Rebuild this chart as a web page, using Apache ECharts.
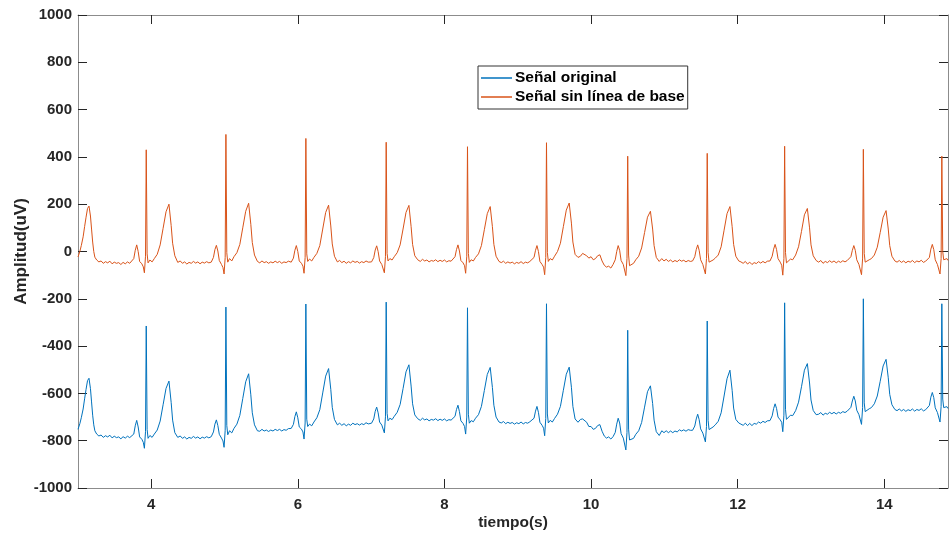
<!DOCTYPE html>
<html>
<head>
<meta charset="utf-8">
<script src="https://cdn.jsdelivr.net/npm/echarts@6/dist/echarts.min.js"></script>
<style>
html,body{margin:0;padding:0;background:#fff;}
#chart{width:949px;height:536px;}
</style>
</head>
<body>
<div id="chart"></div>
<script>
// ---- Data ----
const seriesNames = ['Señal original', 'Señal sin línea de base'];
const xTicks = [4, 6, 8, 10, 12, 14];
const yTicks = [-1000, -800, -600, -400, -200, 0, 200, 400, 600, 800, 1000];

// time (s)
const tiempo = [
  3.000,3.025,3.045,3.070,3.090,3.110,3.130,3.150,3.170,3.185,3.200,3.215,3.230,3.255,3.285,3.315,3.345,3.375,3.405,3.435,3.465,3.495,3.525,3.555,3.585,3.615,3.645,3.675,3.705,
  3.731,3.761,3.781,3.801,3.821,3.841,3.871,3.891,3.906,3.921,3.931,3.943,3.956,3.981,4.011,4.041,4.081,4.121,4.161,4.201,4.241,4.271,4.291,4.321,4.361,4.395,4.425,4.455,4.485,4.515,4.545,4.575,4.605,4.635,4.665,4.695,4.725,4.755,4.785,
  4.818,4.848,4.868,4.888,4.908,4.928,4.958,4.978,4.993,5.008,5.018,5.030,5.043,5.068,5.098,5.128,5.168,5.208,5.248,5.288,5.328,5.358,5.378,5.408,5.448,5.480,5.510,5.540,5.570,5.600,5.630,5.660,5.690,5.720,5.750,5.780,5.810,5.840,5.870,
  5.909,5.939,5.959,5.979,5.999,6.019,6.049,6.069,6.084,6.099,6.109,6.121,6.134,6.159,6.189,6.219,6.259,6.299,6.339,6.379,6.419,6.449,6.469,6.499,6.539,6.570,6.600,6.630,6.660,6.690,6.720,6.750,6.780,6.810,6.840,6.870,6.900,6.930,6.960,
  7.005,7.035,7.055,7.075,7.095,7.115,7.145,7.165,7.180,7.195,7.205,7.217,7.230,7.255,7.285,7.315,7.355,7.395,7.435,7.475,7.515,7.545,7.565,7.595,7.635,7.670,7.700,7.730,7.760,7.790,7.820,7.850,7.880,7.910,7.940,7.970,8.000,8.030,8.060,8.090,
  8.114,8.144,8.164,8.184,8.204,8.224,8.254,8.274,8.289,8.304,8.314,8.326,8.339,8.364,8.394,8.424,8.464,8.504,8.544,8.584,8.624,8.654,8.674,8.704,8.744,8.775,8.805,8.835,8.865,8.895,8.925,8.955,8.985,9.015,9.045,9.075,9.105,9.135,9.165,
  9.192,9.222,9.242,9.262,9.282,9.302,9.332,9.352,9.367,9.382,9.392,9.404,9.417,9.442,9.472,9.502,9.542,9.582,9.622,9.662,9.702,9.732,9.752,9.782,9.822,
  9.855,9.885,9.910,9.940,9.970,10.000,10.030,10.060,10.090,10.120,10.150,10.180,10.210,10.240,10.270,10.300,
  10.330,10.350,10.370,10.390,10.410,10.440,10.460,10.475,10.490,10.500,10.512,10.525,10.550,10.580,10.610,10.650,10.690,10.730,10.770,10.810,10.840,10.860,10.890,10.930,10.965,10.995,11.025,11.055,11.085,11.115,11.145,11.175,11.205,11.235,11.265,11.295,11.325,11.355,
  11.385,11.415,11.435,11.455,11.475,11.495,11.525,11.545,11.560,11.575,11.585,11.597,11.610,11.635,11.665,11.695,11.735,11.775,11.815,11.855,11.895,11.925,11.945,11.975,12.015,12.045,12.075,12.105,12.135,12.165,12.195,12.225,12.255,12.285,12.315,12.345,12.375,12.405,
  12.441,12.471,12.491,12.511,12.531,12.551,12.581,12.601,12.616,12.631,12.641,12.653,12.666,12.691,12.721,12.751,12.791,12.831,12.871,12.911,12.951,12.981,13.001,13.031,13.071,13.105,13.135,13.165,13.195,13.225,13.255,13.285,13.315,13.345,13.375,13.405,13.435,13.465,13.495,
  13.515,13.545,13.565,13.585,13.605,13.625,13.655,13.675,13.690,13.705,13.715,13.727,13.740,13.765,13.795,13.825,13.865,13.905,13.945,13.985,14.025,14.055,14.075,14.105,14.145,14.175,14.205,14.235,14.265,14.295,14.325,14.355,14.385,14.415,14.445,14.475,14.505,14.535,14.565,
  14.586,14.616,14.636,14.656,14.676,14.696,14.726,14.746,14.761,14.776,14.786,14.798,14.811,14.836,14.855,14.870
];

// "Señal original" (uV)
const senalOriginal = [
  -752,-728,-703,-666,-623,-583,-546,-536,-580,-636,-692,-733,-758,-772,-780,-776,-786,-779,-784,-777,-788,-781,-787,-784,-792,-783,-789,-781,-787,
  -783,-772,-737,-714,-742,-784,-794,-807,-832,-762,-315,-752,-790,-778,-786,-772,-755,-717,-648,-579,-548,-638,-713,-766,-786,-780,-790,-784,-793,-786,-790,-782,-789,-784,-792,-785,-789,-783,-788,
  -783,-763,-730,-712,-736,-773,-789,-801,-828,-756,-235,-735,-775,-758,-767,-748,-730,-693,-622,-551,-517,-606,-682,-733,-758,-760,-752,-759,-755,-761,-755,-759,-752,-757,-752,-759,-753,-756,-749,
  -748,-731,-698,-678,-703,-742,-751,-763,-793,-725,-222,-709,-740,-730,-737,-721,-703,-669,-598,-527,-495,-583,-659,-710,-733,-726,-735,-728,-737,-730,-735,-726,-732,-728,-734,-728,-732,-724,-729,
  -726,-708,-676,-658,-682,-721,-734,-740,-767,-699,-214,-684,-716,-705,-711,-697,-680,-647,-580,-509,-479,-569,-644,-691,-707,-714,-705,-712,-708,-716,-710,-713,-707,-715,-709,-714,-708,-716,-711,-713,
  -714,-697,-668,-650,-677,-716,-727,-740,-772,-700,-238,-688,-726,-715,-720,-705,-690,-655,-588,-520,-490,-575,-650,-700,-721,-725,-719,-728,-722,-727,-723,-730,-724,-728,-721,-729,-723,-726,-720,
  -724,-705,-675,-655,-680,-722,-735,-747,-779,-706,-221,-687,-725,-714,-721,-706,-688,-655,-587,-519,-489,-574,-655,-708,-722,
  -710,-708,-706,-722,-740,-740,-752,-748,-736,-732,-760,-780,-789,-784,-793,-783,
  -765,-730,-705,-725,-770,-789,-797,-839,-766,-333,-751,-797,-805,-790,-773,-758,-723,-658,-593,-568,-643,-713,-762,-778,-758,-766,-758,-766,-759,-766,-759,-763,-754,-759,-754,-760,-753,-756,
  -756,-738,-708,-688,-711,-750,-768,-773,-805,-740,-294,-714,-753,-747,-742,-733,-718,-682,-611,-538,-502,-587,-662,-710,-725,-730,-735,-726,-736,-727,-736,-727,-730,-721,-726,-718,-723,-716,
  -715,-695,-664,-644,-664,-700,-712,-722,-762,-692,-217,-667,-710,-703,-692,-694,-673,-637,-572,-502,-474,-556,-628,-672,-690,-688,-681,-692,-684,-688,-680,-686,-680,-687,-680,-684,-677,-681,-675,
  -677,-659,-632,-612,-632,-671,-690,-694,-731,-660,-200,-640,-677,-671,-665,-660,-644,-611,-549,-484,-456,-534,-604,-648,-668,-673,-666,-674,-668,-676,-669,-673,-666,-675,-668,-672,-665,-674,-669,
  -668,-651,-616,-596,-618,-661,-681,-676,-721,-655,-221,-624,-660,-666,-656,-664
];

// "Señal sin línea de base" (uV)
const senalSinBase = [
  -23,0,25,62,105,145,182,192,150,95,40,0,-24,-36,-44,-40,-50,-43,-48,-41,-52,-45,-50,-47,-55,-46,-52,-44,-50,
  -46,-30,5,28,0,-42,-52,-65,-90,-20,430,-10,-48,-36,-44,-30,-12,28,98,168,200,110,35,-18,-46,-40,-50,-44,-53,-46,-50,-42,-49,-44,-52,-45,-49,-43,-48,
  -45,-25,8,26,2,-38,-55,-68,-95,-25,495,-5,-45,-30,-40,-22,-5,30,100,170,204,115,38,-15,-42,-48,-40,-47,-43,-50,-44,-48,-41,-47,-42,-50,-44,-47,-41,
  -45,-28,5,25,0,-40,-50,-62,-92,-25,478,-10,-42,-32,-40,-25,-8,25,95,165,196,108,32,-20,-44,-38,-47,-41,-50,-43,-48,-40,-46,-42,-49,-43,-47,-40,-45,
  -44,-26,6,24,0,-40,-55,-62,-90,-22,462,-8,-40,-30,-36,-22,-5,28,95,165,195,105,30,-18,-35,-42,-33,-40,-36,-44,-38,-41,-35,-43,-37,-42,-36,-44,-39,-41,
  -40,-22,8,28,2,-38,-48,-60,-92,-20,443,-8,-46,-35,-40,-25,-10,25,92,160,190,105,30,-20,-42,-47,-41,-50,-44,-49,-45,-52,-46,-50,-43,-51,-45,-48,-42,
  -44,-25,5,25,0,-42,-55,-66,-98,-25,460,-5,-42,-30,-36,-20,0,35,105,175,205,120,40,-12,-25,
  -20,-8,-4,-18,-28,-22,-35,-30,-18,-14,-40,-58,-66,-62,-70,-55,
  -35,0,25,5,-38,-55,-62,-102,-30,403,-15,-60,-55,-50,-35,-20,15,80,145,170,95,25,-25,-42,-30,-40,-33,-42,-36,-44,-38,-43,-35,-41,-37,-44,-38,-42,
  -40,-22,8,28,5,-35,-55,-62,-95,-30,415,-5,-45,-40,-36,-28,-15,20,90,160,190,105,30,-20,-40,-44,-50,-42,-53,-45,-55,-47,-51,-43,-49,-42,-48,-41,
  -40,-20,10,30,8,-30,-45,-58,-100,-30,445,-5,-48,-42,-32,-35,-15,20,85,155,182,100,28,-18,-38,-45,-38,-50,-42,-47,-39,-46,-40,-48,-41,-46,-39,-44,-38,
  -40,-22,5,25,5,-35,-55,-60,-98,-28,432,-8,-45,-40,-35,-30,-15,18,80,145,173,95,25,-20,-40,-45,-38,-46,-40,-48,-41,-45,-38,-47,-40,-44,-37,-46,-41,
  -42,-25,10,30,8,-35,-55,-50,-95,-30,403,0,-35,-40,-30,-38
];

const xMin = 3, xMax = 14.87;
const yMin = -1000, yMax = 1000;

// ---- Chart ----
const font = '"Liberation Sans", Arial, Helvetica, sans-serif';
const dark = '#262626';
const boxColor = '#8c8c8c';

const dataOriginal = tiempo.map((t, i) => [t, senalOriginal[i]]);
const dataSinBase = tiempo.map((t, i) => [t, senalSinBase[i]]);

const chart = echarts.init(document.getElementById('chart'), null, {renderer: 'canvas'});

const commonTick = {inside: true, length: 9, lineStyle: {color: dark, width: 1}};

const option = {
  animation: false,
  backgroundColor: '#ffffff',
  textStyle: {fontFamily: font},
  grid: {left: 78, right: 1, top: 15, bottom: 46, containLabel: false},
  legend: {
    orient: 'vertical',
    left: 478, top: 66,
    backgroundColor: '#ffffff',
    borderColor: '#333333', borderWidth: 1, borderRadius: 0,
    padding: [4, 3, 4, 3],
    itemGap: 3,
    itemWidth: 31, itemHeight: 1.5,
    icon: 'rect',
    textStyle: {fontFamily: font, fontSize: 15.5, fontWeight: 'bold', color: '#000000', padding: [0, 0, 0, -2]},
    data: seriesNames
  },
  xAxis: [
    {
      type: 'value', min: xMin, max: xMax, position: 'bottom',
      axisLine: {show: true, onZero: false, lineStyle: {color: boxColor, width: 1}},
      axisTick: Object.assign({customValues: xTicks}, commonTick),
      axisLabel: {customValues: xTicks, color: dark, fontSize: 15, fontWeight: 'bold', fontFamily: font, margin: 9},
      splitLine: {show: false},
      name: 'tiempo(s)', nameLocation: 'middle', nameGap: 27, nameMoveOverlap: false,
      nameTextStyle: {color: dark, fontSize: 15.5, fontWeight: 'bold', fontFamily: font}
    },
    {
      type: 'value', min: xMin, max: xMax, position: 'top',
      axisLine: {show: true, onZero: false, lineStyle: {color: boxColor, width: 1}},
      axisTick: Object.assign({customValues: xTicks}, commonTick),
      axisLabel: {show: false},
      splitLine: {show: false}
    }
  ],
  yAxis: [
    {
      type: 'value', min: yMin, max: yMax, interval: 200, position: 'left',
      axisLine: {show: true, onZero: false, lineStyle: {color: boxColor, width: 1}},
      axisTick: commonTick,
      axisLabel: {color: dark, fontSize: 15, fontWeight: 'bold', fontFamily: font, margin: 6,
                  formatter: function (v) { return String(v); }},
      splitLine: {show: false},
      name: 'Amplitud(uV)', nameLocation: 'middle', nameGap: 48, nameRotate: 90, nameMoveOverlap: false,
      nameTextStyle: {color: dark, fontSize: 17, fontWeight: 'bold', fontFamily: font}
    },
    {
      type: 'value', min: yMin, max: yMax, interval: 200, position: 'right',
      axisLine: {show: true, onZero: false, lineStyle: {color: boxColor, width: 1}},
      axisTick: commonTick,
      axisLabel: {show: false},
      splitLine: {show: false}
    }
  ],
  series: [
    {
      name: seriesNames[0], type: 'line', xAxisIndex: 0, yAxisIndex: 0,
      data: dataOriginal, symbol: 'none', showSymbol: false,
      lineStyle: {color: '#0072BD', width: 1}, itemStyle: {color: '#0072BD'}
    },
    {
      name: seriesNames[1], type: 'line', xAxisIndex: 0, yAxisIndex: 0,
      data: dataSinBase, symbol: 'none', showSymbol: false,
      lineStyle: {color: '#D95319', width: 1}, itemStyle: {color: '#D95319'}
    }
  ]
};
chart.setOption(option);
</script>
</body>
</html>
